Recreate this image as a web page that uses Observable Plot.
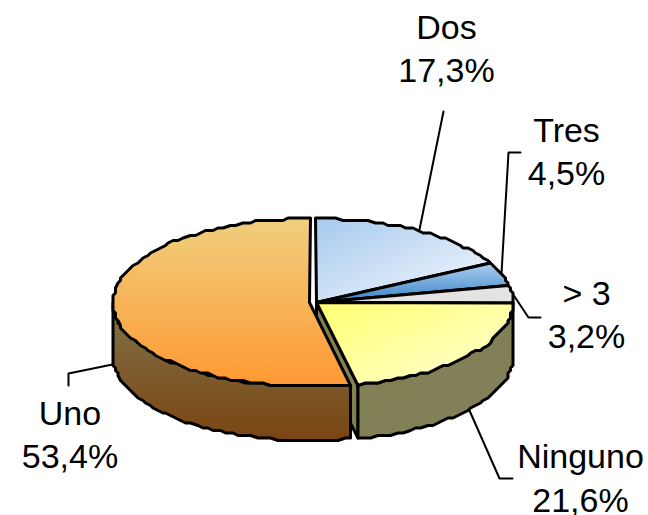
<!DOCTYPE html>
<html><head><meta charset="utf-8">
<style>html,body{margin:0;padding:0;background:#fff}svg{display:block}</style>
<script src="https://cdn.jsdelivr.net/npm/d3@7"></script>
<script src="https://cdn.jsdelivr.net/npm/@observablehq/plot@0.6"></script>
</head><body>
<script>
const categories = ["Dos", "Tres", "> 3", "Ninguno", "Uno"];
const percents = [17.3, 4.5, 3.2, 21.6, 53.4];

// Pie layout (chart units = 1px via identity scales)
const RX = 196.5, RY = 84, DEPTH = 54, CY = 302;
const CX_MAIN = 316, CX_UNO = 309;
const GRID = 2.5;
const snap = v => Math.round(v / GRID) * GRID;

let acc = 0;
const slices = categories.map((name, i) => {
  const start = acc / 100 * 360; acc += percents[i];
  return {name, value: percents[i], start, end: acc / 100 * 360, cx: name === "Uno" ? CX_UNO : CX_MAIN};
});
const bySlice = Object.fromEntries(slices.map(s => [s.name, s]));
const pt = (s, a, dy = 0) => {
  const r = a * Math.PI / 180;
  return {x: snap(s.cx + RX * Math.sin(r)), y: snap(CY - RY * Math.cos(r) + dy)};
};
const arc = (s, a0, a1, dy = 0) => {
  const n = Math.max(2, Math.ceil(Math.abs(a1 - a0) / 2));
  return d3.range(n + 1).map(k => pt(s, a0 + (a1 - a0) * k / n, dy));
};
const topFace = s => [{x: s.cx, y: CY}, ...arc(s, s.start, s.end)];
const wall = s => {
  const a0 = Math.max(s.start, 90), a1 = Math.min(s.end, 270);
  return [...arc(s, a0, a1), ...arc(s, a1, a0, DEPTH)];
};
const cutFace = s => [{x: s.cx, y: CY}, pt(s, s.end), pt(s, s.end, DEPTH), {x: s.cx, y: CY + DEPTH}];

const poly = (pts, fill) => Plot.line(pts, {x: "x", y: "y", fill, stroke: "#000", strokeWidth: 3, curve: "linear-closed", strokeLinejoin: "round"});

function gradient(defs, id, x1, y1, x2, y2, c1, c2) {
  const g = defs.append("linearGradient").attr("id", id)
    .attr("x1", x1).attr("y1", y1).attr("x2", x2).attr("y2", y2);
  g.append("stop").attr("offset", 0).attr("stop-color", c1);
  g.append("stop").attr("offset", 1).attr("stop-color", c2);
}
const gradients = () => {
  const defs = d3.create("svg:defs");
  gradient(defs, "gDos", 0, 0, 1, 1, "#a6caee", "#f6f8fe");
  gradient(defs, "gTres", 0, 0, 0, 1, "#acd0f2", "#3a83c4");
  gradient(defs, "gNin", 0, 0, 1, 1, "#ffff70", "#ffffd8");
  gradient(defs, "gUno", 0, 0, 0, 1, "#f0cf7e", "#ff9933");
  gradient(defs, "gUnoWall", 0, 0, 0, 1, "#807248", "#7a4512");
  gradient(defs, "gNinWall", 0, 0, 1, 1, "#838150", "#7f7f5c");
  return defs.node();
};

const fmt = v => v.toFixed(1).replace(".", ",") + "%";
const labelAnchors = {"Dos": [446, 46], "Tres": [566, 149], "> 3": [586, 312], "Ninguno": [580, 475.5], "Uno": [69.5, 432]};
const labels = slices.map(s => ({text: `${s.name}\n${fmt(s.value)}`, x: labelAnchors[s.name][0], y: labelAnchors[s.name][1]}));

const leaders = [
  [{x: 443, y: 111}, {x: 419, y: 229}],
  [{x: 520, y: 152}, {x: 508, y: 152}, {x: 501, y: 273}],
  [{x: 512, y: 293}, {x: 528, y: 317}, {x: 540, y: 317}],
  [{x: 469, y: 410}, {x: 499, y: 478}, {x: 512, y: 478}],
  [{x: 112, y: 364}, {x: 68, y: 373}, {x: 68, y: 385}]
];
const leaderRows = leaders.flatMap((l, i) => l.map(p => ({...p, i})));

const S = bySlice;
document.body.append(Plot.plot({
  width: 648, height: 515, margin: 0,
  x: {domain: [0, 648], range: [0, 648], axis: null},
  y: {domain: [0, 515], range: [0, 515], axis: null},
  style: {background: "#fff", fontFamily: "'Liberation Sans', Arial, sans-serif"},
  marks: [
    gradients,
    Plot.line(leaderRows, {x: "x", y: "y", z: "i", stroke: "#000", strokeWidth: 2}),
    poly(topFace(S["Dos"]), "url(#gDos)"),
    poly(topFace(S["Tres"]), "url(#gTres)"),
    poly(topFace(S["> 3"]), "#e3e3e3"),
    poly(cutFace(S["Ninguno"]), "#838150"),
    poly(wall(S["Ninguno"]), "url(#gNinWall)"),
    poly(topFace(S["Ninguno"]), "url(#gNin)"),
    poly(wall(S["Uno"]), "url(#gUnoWall)"),
    poly(topFace(S["Uno"]), "url(#gUno)"),
    Plot.text(labels, {x: "x", y: "y", text: "text", fontSize: 34, lineHeight: 1.28, fill: "#000", lineAnchor: "middle"})
  ]
}));
</script>
</body></html>
